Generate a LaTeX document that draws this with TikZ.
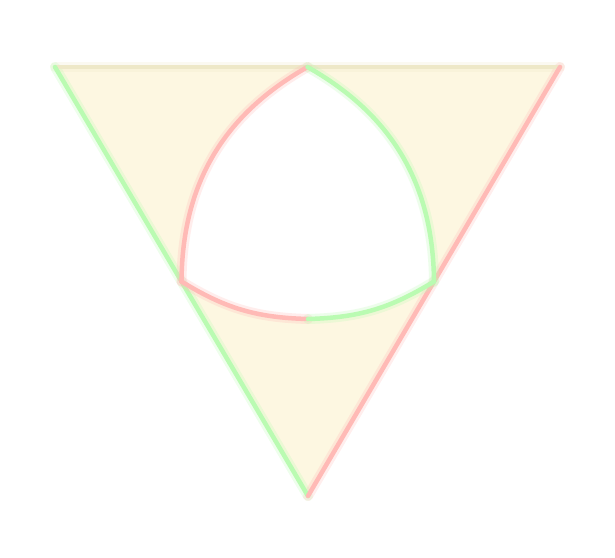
\documentclass[tikz,border=0pt]{standalone}
\usetikzlibrary{calc}
\definecolor{cream}{RGB}{253,247,225}
\definecolor{edgegreen}{RGB}{186,251,178}
\definecolor{edgered}{RGB}{255,186,182}
\definecolor{edgetan}{RGB}{238,232,200}

\begin{document}
\begin{tikzpicture}[x=1pt,y=-1pt,
    edge/.style={line width=4.5pt, line cap=round},
    halo/.style={line width=10pt, line cap=round, opacity=0.25}]
	\useasboundingbox (0,0) rectangle (615,557);
	\coordinate (tl) at (55,67);
	\coordinate (tr) at (560,67);
	\coordinate (bt) at (308,496);
	\coordinate (mt) at ($(tl)!0.5!(tr)$);
	\coordinate (ml) at ($(tl)!0.5!(bt)$);
	\coordinate (mr) at ($(tr)!0.5!(bt)$);
	\coordinate (mb) at (308,319);
	\fill[cream] (tl) -- (tr) -- (bt) -- cycle;
	\fill[white] (mt) to[bend right=30] (ml) to[bend right=30] (mr) to[bend right=30] cycle;
	% outer triangle
	\draw[halo, edgetan] (tl) -- (tr);
	\draw[halo, edgegreen] (tl) -- (bt);
	\draw[halo, edgered] (tr) -- (bt);
	\draw[edge, edgetan] (tl) -- (tr);
	\draw[edge, edgegreen] (tl) -- (bt);
	\draw[edge, edgered] (tr) -- (bt);
	% inner arcs
	\draw[halo, edgered] (mt) to[bend right=30] (ml);
	\draw[halo, edgegreen] (mt) to[bend left=30] (mr);
	\draw[halo, edgered] (ml) to[bend right=15] (mb);
	\draw[halo, edgegreen] (mb) to[bend right=15] (mr);
	\draw[edge, edgered] (mt) to[bend right=30] (ml);
	\draw[edge, edgegreen] (mt) to[bend left=30] (mr);
	\draw[edge, edgered] (ml) to[bend right=15] (mb);
	\draw[edge, edgegreen] (mb) to[bend right=15] (mr);
\end{tikzpicture}
\end{document}
